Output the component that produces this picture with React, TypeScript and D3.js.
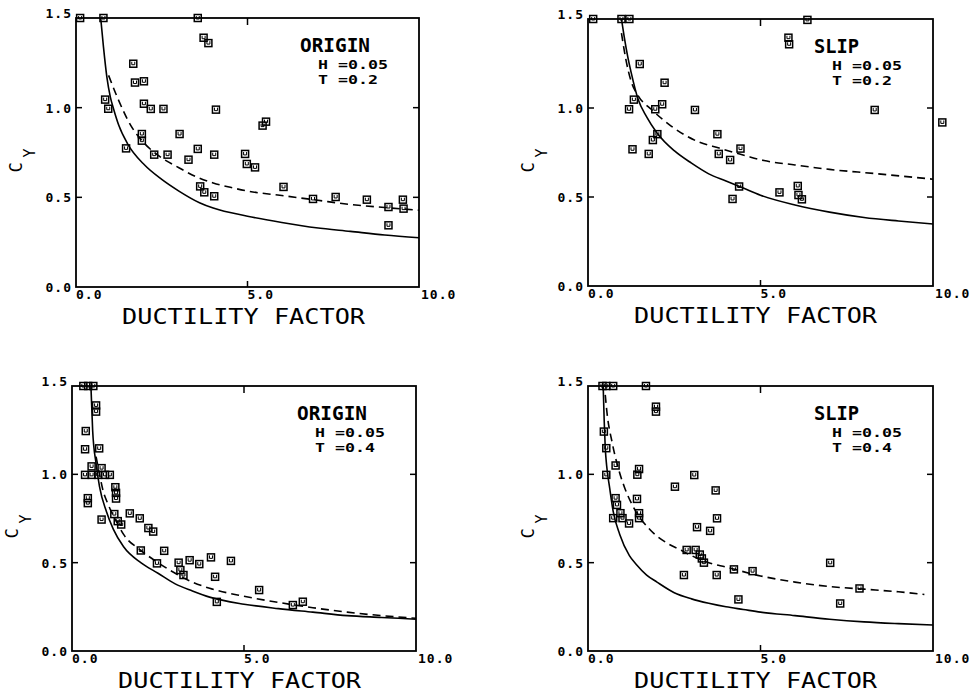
import React, { useEffect } from 'react';
import * as d3 from 'd3';

type Pt = [number, number];

// ---- data (x = ductility factor, y = C_Y) ----

const TL_POINTS: Pt[] = [
  [0.12, 1.5], [0.8, 1.5], [3.55, 1.5], [3.72, 1.39], [3.86, 1.36],
  [1.67, 1.245], [1.72, 1.14], [1.98, 1.147], [0.85, 1.045], [0.94, 0.994],
  [1.98, 1.022], [2.18, 0.993], [2.55, 0.993], [4.08, 0.989], [5.44, 0.9],
  [5.54, 0.922], [1.92, 0.853], [1.92, 0.816], [3.02, 0.853], [1.46, 0.773],
  [2.28, 0.738], [2.67, 0.738], [3.28, 0.71], [3.55, 0.77], [4.03, 0.738],
  [4.93, 0.742], [4.98, 0.686], [5.22, 0.667], [3.62, 0.561], [3.74, 0.528],
  [4.03, 0.506], [6.05, 0.558], [6.91, 0.491], [7.57, 0.502], [8.48, 0.487],
  [9.11, 0.446], [9.11, 0.344], [9.53, 0.487], [9.55, 0.437],
];
const TL_SOLID: Pt[] = [
  [0.72, 1.5], [0.8, 1.34], [0.9, 1.17], [1.0, 1.06], [1.1, 0.99], [1.25, 0.9],
  [1.5, 0.8], [2.0, 0.68], [2.5, 0.6], [3.0, 0.535], [3.6, 0.47], [4.0, 0.44],
  [5.0, 0.395], [6.0, 0.36], [7.0, 0.33], [8.0, 0.31], [9.0, 0.29], [10, 0.275],
];
const TL_DASHED: Pt[] = [
  [0.95, 1.18], [1.2, 1.06], [1.6, 0.9], [2.0, 0.8], [2.5, 0.72], [3.0, 0.665],
  [3.5, 0.615], [4.0, 0.58], [4.5, 0.556], [5.0, 0.535], [6.0, 0.51], [7.0, 0.485],
  [8.0, 0.46], [9.0, 0.443], [10, 0.428],
];

const TR_POINTS: Pt[] = [
  [0.15, 1.5], [0.97, 1.5], [1.2, 1.5], [6.36, 1.495], [5.81, 1.395], [5.83, 1.358],
  [1.5, 1.247], [2.22, 1.142], [1.33, 1.047], [1.19, 0.993], [1.95, 0.993],
  [2.15, 1.021], [3.1, 0.989], [8.31, 0.989], [10.27, 0.919], [2.01, 0.853],
  [1.88, 0.82], [1.29, 0.768], [1.76, 0.742], [3.75, 0.853], [3.79, 0.742],
  [4.12, 0.708], [4.42, 0.772], [4.38, 0.559], [4.19, 0.489], [5.55, 0.526],
  [6.08, 0.562], [6.1, 0.511], [6.2, 0.487],
];
const TR_SOLID: Pt[] = [
  [0.97, 1.5], [1.05, 1.4], [1.15, 1.29], [1.25, 1.2], [1.45, 1.05], [1.7, 0.95],
  [2.0, 0.86], [2.5, 0.76], [3.0, 0.69], [3.5, 0.63], [4.0, 0.59], [4.5, 0.55],
  [5.0, 0.51], [6.0, 0.455], [7.0, 0.415], [8.0, 0.385], [9.0, 0.365], [10, 0.348],
];
const TR_DASHED: Pt[] = [
  [0.97, 1.42], [1.1, 1.27], [1.25, 1.15], [1.45, 1.07], [1.85, 0.99], [2.4, 0.9],
  [3.2, 0.81], [3.8, 0.775], [4.6, 0.73], [5.1, 0.705], [6.0, 0.68], [7.0, 0.655],
  [8.3, 0.632], [10, 0.6],
];

const BL_POINTS: Pt[] = [
  [0.33, 1.5], [0.47, 1.5], [0.62, 1.5], [0.7, 1.39], [0.7, 1.355],
  [0.4, 1.245], [0.38, 1.142], [0.79, 1.147],
  [0.38, 0.997], [0.57, 0.997], [0.76, 0.997], [0.96, 0.997], [1.1, 0.997],
  [0.57, 1.045], [0.86, 1.035], [0.46, 0.865], [0.46, 0.837],
  [1.26, 0.927], [1.28, 0.895], [1.28, 0.863], [0.86, 0.744],
  [1.23, 0.775], [1.33, 0.735], [1.43, 0.716], [1.68, 0.779], [1.97, 0.751],
  [2.22, 0.696], [2.36, 0.676], [2.0, 0.569], [2.68, 0.567],
  [2.47, 0.496], [3.1, 0.5], [3.15, 0.458], [3.24, 0.43], [3.42, 0.514],
  [3.7, 0.492], [4.04, 0.53], [4.16, 0.42], [4.62, 0.51], [4.21, 0.278],
  [5.44, 0.345], [6.42, 0.26], [6.71, 0.279],
];
const BL_SOLID: Pt[] = [
  [0.55, 1.5], [0.6, 1.25], [0.7, 1.06], [0.8, 0.93], [1.0, 0.79], [1.2, 0.69],
  [1.5, 0.59], [2.0, 0.5], [2.5, 0.44], [3.0, 0.38], [3.5, 0.34], [4.0, 0.305],
  [5.0, 0.265], [6.0, 0.24], [7.0, 0.22], [8.0, 0.2], [9.0, 0.19], [10, 0.18],
];
const BL_DASHED: Pt[] = [
  [0.7, 1.1], [0.8, 1.0], [0.9, 0.91], [1.05, 0.83], [1.3, 0.73], [1.5, 0.66],
  [2.0, 0.57], [2.5, 0.5], [3.0, 0.44], [3.5, 0.39], [4.0, 0.355], [5.0, 0.31],
  [6.0, 0.275], [7.0, 0.245], [8.0, 0.22], [9.0, 0.2], [10, 0.185],
];

const BR_POINTS: Pt[] = [
  [0.42, 1.5], [0.53, 1.5], [0.73, 1.5], [1.68, 1.5], [1.97, 1.383], [1.97, 1.355],
  [0.46, 1.242], [0.53, 1.148], [0.8, 1.05], [0.53, 0.997], [1.48, 1.03], [1.43, 0.998],
  [0.8, 0.865], [0.84, 0.827], [1.42, 0.861], [0.73, 0.752], [0.94, 0.78], [1.0, 0.752],
  [1.19, 0.722], [1.48, 0.78], [1.48, 0.752], [2.52, 0.93], [3.08, 0.996], [3.7, 0.909],
  [3.74, 0.751], [3.16, 0.701], [3.54, 0.68], [2.86, 0.572], [3.12, 0.572], [3.24, 0.546],
  [3.3, 0.524], [3.36, 0.5], [2.78, 0.43], [3.73, 0.43], [4.23, 0.462], [4.77, 0.452],
  [4.36, 0.292], [7.02, 0.499], [7.31, 0.269], [7.87, 0.354],
];
const BR_SOLID: Pt[] = [
  [0.44, 1.5], [0.47, 1.3], [0.5, 1.15], [0.54, 1.05], [0.63, 0.92], [0.73, 0.79],
  [0.92, 0.66], [1.2, 0.54], [1.4, 0.49], [1.7, 0.43], [2.0, 0.39], [2.5, 0.33],
  [3.0, 0.295], [3.5, 0.27], [4.0, 0.25], [4.5, 0.235], [5.0, 0.22], [6.0, 0.2],
  [7.0, 0.18], [8.0, 0.165], [9.0, 0.155], [10, 0.147],
];
const BR_DASHED: Pt[] = [
  [0.5, 1.45], [0.55, 1.35], [0.7, 1.18], [0.9, 1.02], [1.07, 0.92], [1.3, 0.82],
  [1.8, 0.686], [2.3, 0.61], [2.7, 0.57], [3.0, 0.54], [3.5, 0.5], [4.0, 0.475],
  [5.0, 0.425], [6.0, 0.39], [7.0, 0.365], [8.0, 0.35], [9.0, 0.335], [9.75, 0.32],
];

const MODELS = ['ORIGIN', 'SLIP', 'ORIGIN', 'SLIP'];
const DAMPING = ['0.05', '0.05', '0.05', '0.05'];
const PERIODS = ['0.2', '0.2', '0.4', '0.4'];

const X_TICKS = [0, 5, 10];
const X_TICK_LABELS = ['0.0', '5.0', '10.0'];
const Y_TICKS = [1.5, 1.0, 0.5, 0.0];
const Y_TICK_LABELS = ['1.5', '1.0', '0.5', '0.0'];

// ---- layout ----
const W = 977;
const H = 693;
const FRAMES = [
  { left: 76, right: 419, top: 18, bottom: 287 },
  { left: 588, right: 933, top: 19, bottom: 286 },
  { left: 72, right: 416, top: 386, bottom: 651 },
  { left: 588, right: 933, top: 386, bottom: 651 },
];
const MONO = '"DejaVu Sans Mono", monospace';

interface PanelProps {
  frame: { left: number; right: number; top: number; bottom: number };
  points: Pt[];
  solid: Pt[];
  dashed: Pt[];
  model: string;
  damping: string;
  period: string;
}

function Panel({ frame, points, solid, dashed, model, damping, period }: PanelProps) {
  const { left, right, top, bottom } = frame;
  const x = d3.scaleLinear().domain([0, 10]).range([left, right]);
  const y = d3.scaleLinear().domain([0, 1.5]).range([bottom, top]);
  const line = d3
    .line<Pt>()
    .x((d) => x(d[0]))
    .y((d) => y(d[1]))
    .curve(d3.curveMonotoneX);
  const midY = (top + bottom) / 2;

  return (
    <g>
      {/* frame */}
      <rect
        x={left}
        y={top}
        width={right - left}
        height={bottom - top}
        fill="none"
        stroke="#000"
        strokeWidth={1.8}
      />

      {/* inward ticks */}
      {[1.0, 0.5].map((t) => (
        <g key={t}>
          <line x1={left} x2={left + 6} y1={y(t)} y2={y(t)} stroke="#000" strokeWidth={1.5} />
          <line x1={right} x2={right - 6} y1={y(t)} y2={y(t)} stroke="#000" strokeWidth={1.5} />
        </g>
      ))}
      <line x1={x(5)} x2={x(5)} y1={top} y2={top + 7} stroke="#000" strokeWidth={1.5} />
      <line x1={x(5)} x2={x(5)} y1={bottom} y2={bottom - 6} stroke="#000" strokeWidth={1.5} />

      {/* y tick labels */}
      {Y_TICKS.map((t, i) => (
        <text
          key={t}
          x={left - 4}
          y={y(t) + (t === 1.5 ? 0 : 5)}
          textAnchor="end"
          fontFamily={MONO}
          fontWeight="bold"
          fontSize={13}
          letterSpacing={1}
        >
          {Y_TICK_LABELS[i]}
        </text>
      ))}

      {/* x tick labels */}
      {X_TICKS.map((t, i) => (
        <text
          key={t}
          x={x(t) + (t === 10 ? 2 : 0)}
          y={bottom + 12}
          textAnchor="start"
          fontFamily={MONO}
          fontWeight="bold"
          fontSize={13}
          letterSpacing={1}
        >
          {X_TICK_LABELS[i]}
        </text>
      ))}

      {/* axis titles */}
      <text
        x={left + 46}
        y={bottom + 37}
        fontFamily={MONO}
        fontSize={22}
        textLength={243}
        lengthAdjust="spacingAndGlyphs"
      >
        DUCTILITY FACTOR
      </text>
      <text
        transform={`translate(${left - 54},${midY + 20}) rotate(-90)`}
        fontFamily={MONO}
        fontSize={17}
      >
        <tspan x={0} y={0}>C</tspan>
        <tspan x={15} y={13} fontSize={15}>Y</tspan>
      </text>

      {/* annotation */}
      <text
        x={right - 119}
        y={top + 34}
        fontFamily={MONO}
        fontWeight="bold"
        fontSize={19}
        textLength={model.length === 6 ? 70 : 45}
        lengthAdjust="spacingAndGlyphs"
      >
        {model}
      </text>
      <text
        x={right - 101}
        y={top + 51}
        fontFamily={MONO}
        fontWeight="bold"
        fontSize={13}
        textLength={70}
        lengthAdjust="spacingAndGlyphs"
      >
        {`H =${damping}`}
      </text>
      <text
        x={right - 101}
        y={top + 66}
        fontFamily={MONO}
        fontWeight="bold"
        fontSize={13}
        textLength={60}
        lengthAdjust="spacingAndGlyphs"
      >
        {`T =${period}`}
      </text>

      {/* curves */}
      <path d={line(solid) ?? ''} fill="none" stroke="#000" strokeWidth={1.6} />
      <path
        d={line(dashed) ?? ''}
        fill="none"
        stroke="#000"
        strokeWidth={1.6}
        strokeDasharray="8,5"
      />

      {/* data markers */}
      {points.map((d, i) => (
        <g key={i} transform={`translate(${x(d[0])},${y(d[1])})`}>
          <rect x={-3.5} y={-3.5} width={7} height={7} fill="none" stroke="#000" strokeWidth={1.5} />
          <path d="M-1.5,-2V1H1.5V-2" fill="none" stroke="#000" strokeWidth={1} />
        </g>
      ))}
    </g>
  );
}

export default function App() {
  useEffect(() => {
    document.body.style.margin = '0';
    document.body.style.background = '#fff';
  }, []);

  const panels = [
    { points: TL_POINTS, solid: TL_SOLID, dashed: TL_DASHED },
    { points: TR_POINTS, solid: TR_SOLID, dashed: TR_DASHED },
    { points: BL_POINTS, solid: BL_SOLID, dashed: BL_DASHED },
    { points: BR_POINTS, solid: BR_SOLID, dashed: BR_DASHED },
  ];

  return (
    <svg
      width={W}
      height={H}
      viewBox={`0 0 ${W} ${H}`}
      style={{ position: 'absolute', left: 0, top: 0, background: '#fff' }}
    >
      {panels.map((p, i) => (
        <Panel
          key={i}
          frame={FRAMES[i]}
          points={p.points}
          solid={p.solid}
          dashed={p.dashed}
          model={MODELS[i]}
          damping={DAMPING[i]}
          period={PERIODS[i]}
        />
      ))}
    </svg>
  );
}
